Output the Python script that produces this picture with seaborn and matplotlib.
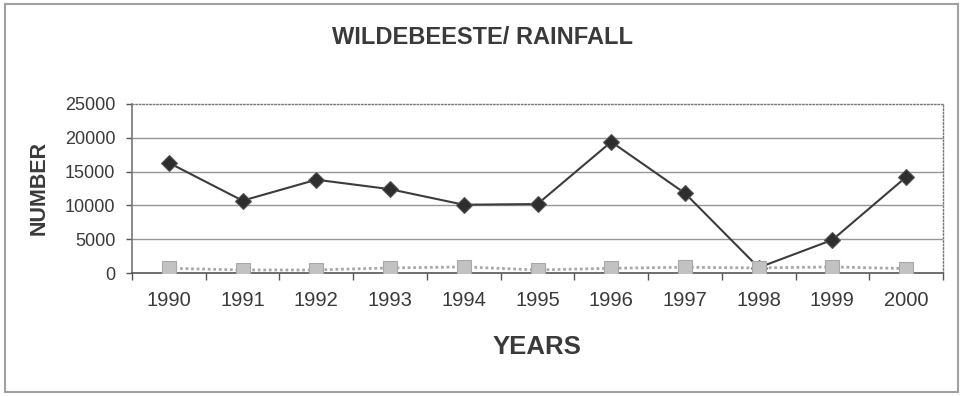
import matplotlib
matplotlib.use("Agg")
import matplotlib.pyplot as plt
from matplotlib.patches import Rectangle
import numpy as np
import pandas as pd
import seaborn as sns

# Annual counts and rainfall
years = [1990, 1991, 1992, 1993, 1994, 1995, 1996, 1997, 1998, 1999, 2000]
wildebeeste = [16300, 10700, 13800, 12400, 10100, 10200, 19400, 11800, 800, 4900, 14200]
rainfall = [700, 450, 450, 750, 900, 450, 700, 850, 750, 900, 650]
y_ticks = [0, 5000, 10000, 15000, 20000, 25000]

sns.set_style("white")
plt.rcParams["font.family"] = ["Liberation Sans", "DejaVu Sans"]

df = pd.DataFrame({"year": years, "wildebeeste": wildebeeste, "rainfall": rainfall})

fig = plt.figure(figsize=(9.61, 3.96), dpi=100)
ax = fig.add_axes([132 / 961, 1 - 273 / 396, (943 - 132) / 961, (273 - 104) / 396])

text_col = "#3a3a3a"

# horizontal gridlines
for v in y_ticks[1:-1]:
    ax.axhline(v, color="#969696", lw=1.0, zorder=0)

sns.lineplot(data=df, x="year", y="rainfall", ax=ax, color="#a8a8a8",
             linestyle=(0, (1, 1)), lw=2.0, marker="s", markersize=10,
             markerfacecolor="#c2c2c2", markeredgecolor="#a8a8a8",
             markeredgewidth=0.8, zorder=3)
sns.lineplot(data=df, x="year", y="wildebeeste", ax=ax, color="#3c3c3c",
             lw=1.5, marker="D", markersize=8, markerfacecolor="#2e2e2e",
             markeredgecolor="#555555", markeredgewidth=0.8, zorder=2)

ax.set_xlim(years[0] - 0.5, years[-1] + 0.5)
ax.set_ylim(y_ticks[0], y_ticks[-1])
ax.set_yticks(y_ticks)
ax.set_yticklabels([str(v) for v in y_ticks])
ax.set_xticks(years)
ax.set_xticklabels([str(y) for y in years])
ax.set_xticks(np.arange(years[0] - 0.5, years[-1] + 1.0, 1.0), minor=True)

ax.tick_params(axis="x", which="major", length=0, pad=13, labelsize=14.5, labelcolor=text_col)
ax.tick_params(axis="x", which="minor", length=5, width=1, color="#555555", direction="out", bottom=True)
ax.tick_params(axis="y", which="major", length=4, width=1, color="#555555", left=True,
               pad=8, labelsize=13, labelcolor=text_col)

for side in ["top", "right"]:
    ax.spines[side].set_visible(True)
    ax.spines[side].set_color("#777777")
    ax.spines[side].set_linestyle((0, (1, 1.5)))
    ax.spines[side].set_linewidth(1.0)
ax.spines["left"].set_color("#777777")
ax.spines["left"].set_linewidth(1.2)
ax.spines["bottom"].set_color("#555555")
ax.spines["bottom"].set_linewidth(1.2)

ax.set_xlabel("")
ax.set_ylabel("")

fig.text(482 / 961, 1 - 38 / 396, "WILDEBEESTE/ RAINFALL", ha="center", va="center",
         fontsize=17, fontweight="bold", color=text_col)
fig.text(537 / 961, 1 - 347 / 396, "YEARS", ha="center", va="center",
         fontsize=18.5, fontweight="bold", color=text_col)
fig.text(39 / 961, 1 - 188 / 396, "NUMBER", ha="center", va="center", rotation=90,
         fontsize=15.5, fontweight="bold", color=text_col)

# outer chart border
fig.add_artist(Rectangle((5 / 961, 1 - 392 / 396), (958 - 5) / 961, (392 - 4) / 396,
                         transform=fig.transFigure, fill=False, edgecolor="#a0a0a0", lw=1.5))

fig.savefig("out.png", dpi=100, facecolor="white")
